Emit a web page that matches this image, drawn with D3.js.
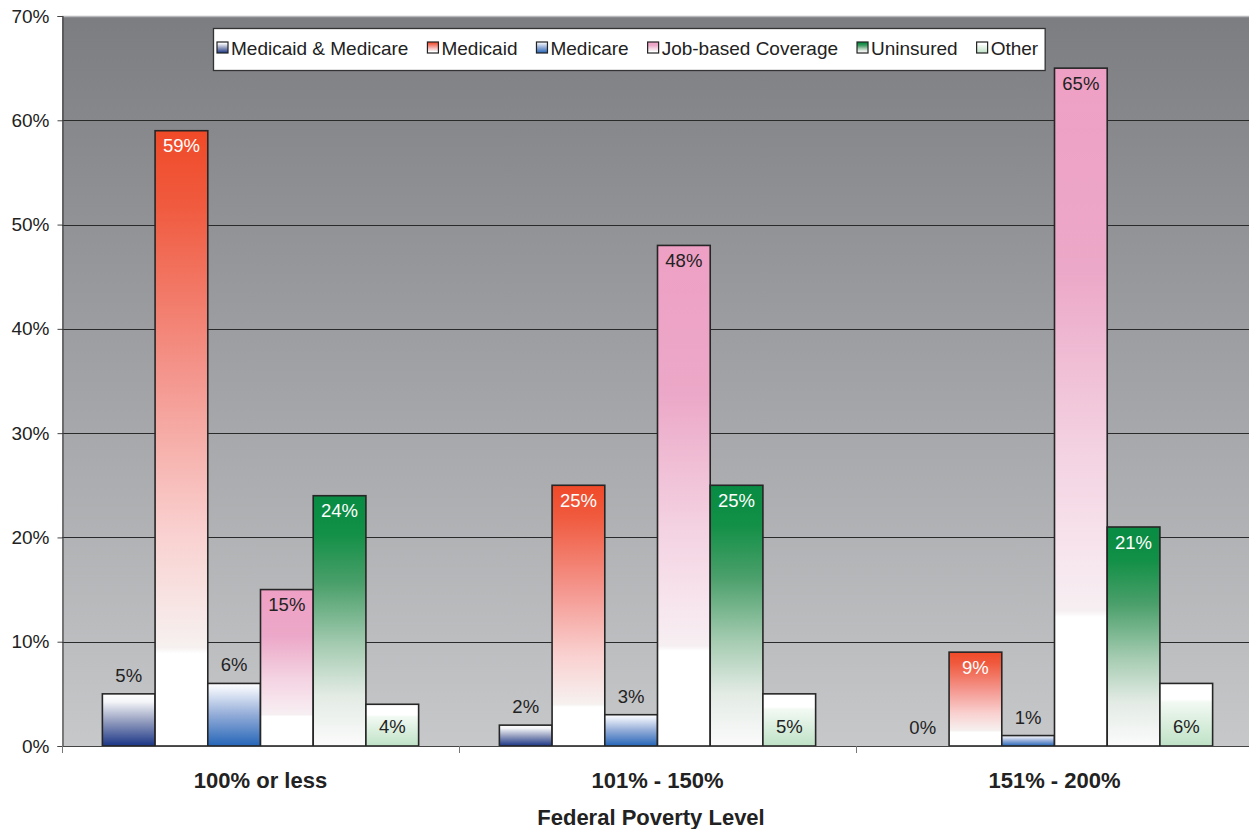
<!DOCTYPE html>
<html><head><meta charset="utf-8">
<script src="https://cdn.jsdelivr.net/npm/d3@7"></script>
<style>
html,body{margin:0;padding:0;background:#fff;}
svg text{font-family:"Liberation Sans",Arial,Helvetica,sans-serif;}
</style></head>
<body><svg id="c" width="1249" height="829"></svg>
<script>
const categories = ["100% or less", "101% - 150%", "151% - 200%"];
const seriesNames = ["Medicaid & Medicare", "Medicaid", "Medicare", "Job-based Coverage", "Uninsured", "Other"];
const dualValues      = [5, 2, 0];
const medicaidValues  = [59, 25, 9];
const medicareValues  = [6, 3, 1];
const jobValues       = [15, 48, 65];
const uninsuredValues = [24, 25, 21];
const otherValues     = [4, 5, 6];
const yTicks = [0, 10, 20, 30, 40, 50, 60, 70];
const xTitle = "Federal Poverty Level";

const seriesValues = [dualValues, medicaidValues, medicareValues, jobValues, uninsuredValues, otherValues];
// gradient stops per series (top -> bottom)
const seriesStops = [
  [[0,"#ffffff"],[0.15,"#f4f5f8"],[0.5,"#9aa3c2"],[1,"#1a3586"]],
  [[0,"#f04a28"],[0.12,"#f05a3e"],[0.4,"#f4968e"],[0.65,"#f9d0cf"],[0.84,"#f6f1f0"],[0.85,"#ffffff"],[1,"#ffffff"]],
  [[0,"#ffffff"],[0.12,"#e8eef8"],[0.5,"#93acd8"],[1,"#2566b8"]],
  [[0,"#eea0c4"],[0.3,"#eca8c8"],[0.55,"#f3d0e0"],[0.7,"#f7e3ec"],[0.8,"#f6eff2"],[0.81,"#ffffff"],[1,"#ffffff"]],
  [[0,"#078b42"],[0.15,"#129047"],[0.35,"#4a9f6a"],[0.6,"#a6ccb2"],[0.8,"#e3ebe5"],[1,"#fbfbfb"]],
  [[0,"#ffffff"],[0.25,"#ffffff"],[0.3,"#f2f9f3"],[1,"#bfe2c6"]]
];
// label placement: out = above bar, end = inside top, base = inside bottom
const labelPos = ["out","end","out","end","end","base"];
const labelColor = ["#222","#fff","#222","#222","#fff","#222"];

const svg = d3.select("#c");
const m = {left:62, top:16};
const plotRight = 1253, plotBottom = 746;
const pw = plotRight - m.left, ph = plotBottom - m.top;

const defs = svg.append("defs");
const bg = defs.append("linearGradient").attr("id","bg").attr("x1",0).attr("y1",0).attr("x2",0).attr("y2",1);
bg.append("stop").attr("offset",0).attr("stop-color","#7c7d81");
bg.append("stop").attr("offset",1).attr("stop-color","#c7c8ca");
seriesStops.forEach((st,i)=>{
  const g = defs.append("linearGradient").attr("id","g"+i).attr("x1",0).attr("y1",0).attr("x2",0).attr("y2",1);
  st.forEach(s=>g.append("stop").attr("offset",s[0]).attr("stop-color",s[1]));
});

const y = d3.scaleLinear().domain([0,70]).range([plotBottom, m.top]);
const x0 = d3.scaleBand().domain(categories).range([m.left, plotRight]).padding(0);
const x1 = d3.scaleBand().domain(d3.range(seriesNames.length)).range([0, x0.bandwidth()]).paddingInner(0).paddingOuter(0.766);

// plot background
svg.append("rect").attr("x",m.left).attr("y",m.top).attr("width",pw).attr("height",ph).attr("fill","url(#bg)");
svg.append("line").attr("x1",m.left).attr("x2",plotRight).attr("y1",16.5).attr("y2",16.5).attr("stroke","#b8b9bb").attr("stroke-width",1.5);

// gridlines
svg.append("g").selectAll("line").data(yTicks.filter(t=>t>0&&t<70)).join("line")
  .attr("x1",m.left).attr("x2",plotRight).attr("y1",d=>Math.round(y(d))+0.5).attr("y2",d=>Math.round(y(d))+0.5)
  .attr("stroke","#2a2a2a").attr("stroke-width",1);

// y axis
const yAxis = d3.axisLeft(y).tickValues(yTicks).tickFormat(d=>d+"%").tickSize(5).tickPadding(8);
const ga = svg.append("g").attr("transform",`translate(${m.left+0.5},0)`).call(yAxis);
ga.select(".domain").attr("stroke","#444").attr("stroke-width",1.2);
ga.selectAll(".tick line").attr("stroke","#444");
ga.selectAll("text").attr("font-size",19).attr("fill","#222").attr("font-family","Liberation Sans, Arial, sans-serif");

// bars
const data = [];
categories.forEach((c,ci)=>seriesNames.forEach((s,si)=>data.push({c, si, v: seriesValues[si][ci]})));
const bars = svg.append("g");
bars.selectAll("rect").data(data.filter(d=>d.v>0)).join("rect")
  .attr("x",d=>x0(d.c)+x1(d.si))
  .attr("y",d=>y(d.v))
  .attr("width",x1.bandwidth())
  .attr("height",d=>y(0)-y(d.v))
  .attr("fill",d=>`url(#g${d.si})`)
  .attr("stroke","#262626").attr("stroke-width",1.6);

// x axis
const xAxis = d3.axisBottom(x0).tickSize(0).tickPadding(26);
const gx = svg.append("g").attr("transform",`translate(0,${plotBottom})`).call(xAxis);
gx.select(".domain").attr("stroke","#444").attr("stroke-width",1.2);
gx.selectAll("text").attr("font-size",22).attr("font-weight","bold").attr("fill","#222").attr("font-family","Liberation Sans, Arial, sans-serif");
// category boundary ticks
svg.append("g").selectAll("line").data(categories).join("line")
  .attr("x1",d=>x0(d)+0.5).attr("x2",d=>x0(d)+0.5).attr("y1",plotBottom).attr("y2",plotBottom+7)
  .attr("stroke","#777").attr("stroke-width",1);

// value labels
svg.append("g").selectAll("text").data(data).join("text")
  .attr("x",d=>x0(d.c)+x1(d.si)+x1.bandwidth()/2)
  .attr("y",d=>{
    const p = labelPos[d.si];
    if (p==="out") return y(d.v)-12;
    if (p==="end") return y(d.v)+21.5;
    return y(0)-13;
  })
  .attr("text-anchor","middle")
  .attr("font-size",18.5).attr("fill",d=>labelColor[d.si])
  .text(d=>d.v+"%");

// x title
svg.append("text").attr("x",651).attr("y",825).attr("text-anchor","middle")
  .attr("font-size",22).attr("font-weight","bold").attr("fill","#222").text(xTitle);

// legend
const lg = svg.append("g");
const lbox = lg.append("rect").attr("x",213.5).attr("y",28.5).attr("height",42).attr("fill","#fff").attr("stroke","#333").attr("stroke-width",1.3);
let lx = 217;
seriesNames.forEach((s,i)=>{
  lg.append("rect").attr("x",lx).attr("y",42).attr("width",11).attr("height",11)
    .attr("fill",`url(#g${i})`).attr("stroke","#222").attr("stroke-width",1.2);
  const t = lg.append("text").attr("x",lx+14).attr("y",55).attr("font-size",19).attr("fill","#222").text(s);
  lx += 14 + t.node().getComputedTextLength() + 19;
});
lbox.attr("width", lx - 19 + 7 - 213.5);
</script></body></html>
